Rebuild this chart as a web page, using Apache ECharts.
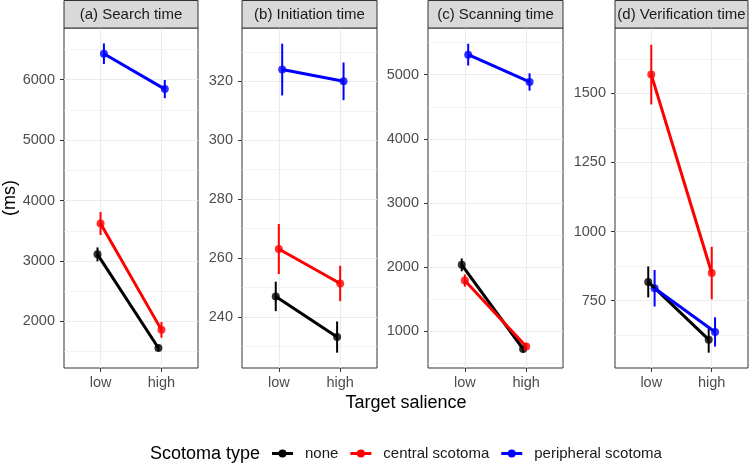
<!DOCTYPE html>
<html><head><meta charset="utf-8">
<script src="https://cdn.jsdelivr.net/npm/echarts@6/dist/echarts.min.js"></script>
<style>html,body{margin:0;padding:0;background:#fff}#c{width:750px;height:476px}</style>
</head><body><div id="c"></div>
<script>
// ---- data ----
const categories = ['low', 'high'];
const groups = ['none', 'central scotoma', 'peripheral scotoma'];
const groupColors = ['#000000', '#FF0000', '#0000FF'];
const panelTitles = ['(a) Search time', '(b) Initiation time', '(c) Scanning time', '(d) Verification time'];

// means [low, high] per group: none, central, peripheral
const searchMeans = [[3110, 1560], [3620, 1860], [6430, 5845]];
const searchErrs = [[115, 55], [190, 130], [170, 150]];
const initiationMeans = [[247, 233.2], [263.1, 251.4], [324, 320]];
const initiationErrs = [[5, 5.3], [8.5, 6], [8.8, 6.4]];
const scanningMeans = [[2037, 726], [1793, 766], [5312, 4886]];
const scanningErrs = [[100, 55], [95, 55], [170, 135]];
const verificationMeans = [[818, 609], [1568, 850], [795, 637]];
const verificationErrs = [[56, 47], [108, 95], [66, 53]];

const searchTicks = [2000, 3000, 4000, 5000, 6000];
const initiationTicks = [240, 260, 280, 300, 320];
const scanningTicks = [1000, 2000, 3000, 4000, 5000];
const verificationTicks = [750, 1000, 1250, 1500];

// ---- layout ----
const panels = [
  {means: searchMeans, errs: searchErrs, ticks: searchTicks, min: 1229, max: 6856, left: 64, width: 134},
  {means: initiationMeans, errs: initiationErrs, ticks: initiationTicks, min: 222.7, max: 338.1, left: 242, width: 135},
  {means: scanningMeans, errs: scanningErrs, ticks: scanningTicks, min: 430, max: 5727, left: 428, width: 135},
  {means: verificationMeans, errs: verificationErrs, ticks: verificationTicks, min: 506.5, max: 1736.6, left: 615, width: 133}
];
const dodge = [-0.05, 0, 0.055];
const FONT = 'Liberation Sans, Arial, Helvetica, sans-serif';
const TOP = 28, HEIGHT = 340;

function minorOf(ticks, min, max) {
  const step = ticks[1] - ticks[0];
  const out = [];
  let v = ticks[0] - step / 2;
  while (v - step >= min) v -= step;
  for (; v <= max; v += step) if (v >= min) out.push(v);
  return out;
}

const grids = [], xAxes = [], yAxes = [], series = [], graphics = [];
panels.forEach((p, i) => {
  grids.push({left: p.left, top: TOP, width: p.width, height: HEIGHT, show: true,
    borderColor: '#333333', borderWidth: 1, backgroundColor: '#fff'});
  xAxes.push({type: 'value', gridIndex: i, min: 0.4, max: 2.6,
    axisLine: {show: false},
    axisTick: {show: true, customValues: [1, 2], length: 4, lineStyle: {color: '#333333', width: 1}},
    axisLabel: {customValues: [1, 2], formatter: v => categories[Math.round(v) - 1], color: '#4d4d4d',
      fontSize: 14.5, fontFamily: FONT, margin: 7},
    splitLine: {show: true, lineStyle: {color: '#ebebeb', width: 1.1}}
  });
  yAxes.push({type: 'value', gridIndex: i, min: p.min, max: p.max, position: 'left',
    axisLine: {show: false},
    axisTick: {show: true, customValues: p.ticks, length: 4, lineStyle: {color: '#333333', width: 1}},
    axisLabel: {customValues: p.ticks, formatter: v => String(v), color: '#4d4d4d', fontSize: 14.5, fontFamily: FONT, margin: 9},
    splitLine: {show: true, lineStyle: {color: '#ebebeb', width: 1.1}}
  });
  const minor = minorOf(p.ticks, p.min, p.max);
  yAxes.push({type: 'value', gridIndex: i, min: p.min, max: p.max, position: 'left',
    axisLine: {show: false},
    axisTick: {show: false, customValues: minor},
    axisLabel: {show: false, customValues: minor},
    splitLine: {show: true, lineStyle: {color: '#ebebeb', width: 0.6}}
  });
  const yIdx = i * 2;
  groups.forEach((g, k) => {
    const m = p.means[k], e = p.errs[k], c = groupColors[k];
    const pts = m.map((v, j) => [j + 1 + dodge[k], v]);
    series.push({type: 'line', name: g, xAxisIndex: i, yAxisIndex: yIdx, data: pts,
      symbol: 'none', lineStyle: {color: c, width: 3}, itemStyle: {color: c}, silent: true, animation: false});
    series.push({type: 'custom', name: g, xAxisIndex: i, yAxisIndex: yIdx,
      data: m.map((v, j) => [j + 1 + dodge[k], v - e[j], v + e[j]]),
      renderItem: (params, api) => {
        const a = api.coord([api.value(0), api.value(1)]);
        const b = api.coord([api.value(0), api.value(2)]);
        return {type: 'line', shape: {x1: a[0], y1: a[1], x2: b[0], y2: b[1]},
          style: {stroke: c, lineWidth: 2}};
      }, itemStyle: {color: c}, silent: true, animation: false});
    series.push({type: 'scatter', name: g, xAxisIndex: i, yAxisIndex: yIdx, data: pts,
      symbol: 'circle', symbolSize: 8, itemStyle: {color: c}, silent: true, animation: false});
  });
  // strip
  graphics.push({type: 'rect', shape: {x: p.left, y: 0.5, width: p.width, height: TOP - 0.5},
    style: {fill: '#d9d9d9', stroke: '#333333', lineWidth: 1}, z: 10});
  graphics.push({type: 'text', x: p.left + p.width / 2, y: 14.5, z: 11,
    style: {text: panelTitles[i], fill: '#1a1a1a', font: '15px ' + FONT, textAlign: 'center', textVerticalAlign: 'middle'}});
});

graphics.push({type: 'text', x: 406, y: 403,
  style: {text: 'Target salience', fill: '#000', font: '18px ' + FONT, textAlign: 'center', textVerticalAlign: 'middle'}});
graphics.push({type: 'text', x: 10, y: 198, rotation: Math.PI / 2,
  style: {text: '(ms)', fill: '#000', font: '18px ' + FONT, textAlign: 'center', textVerticalAlign: 'middle'}});
graphics.push({type: 'text', x: 150, y: 454,
  style: {text: 'Scotoma type', fill: '#000', font: '18px ' + FONT, textAlign: 'left', textVerticalAlign: 'middle'}});

const keyIcon = 'path://M0,2.5H21V5.5H0Z M6.5,4A4,4 0 1 1 14.5,4A4,4 0 1 1 6.5,4Z';

const option = {
  animation: false,
  grid: grids, xAxis: xAxes, yAxis: yAxes, series: series,
  legend: {left: 272, top: 446, padding: 0, itemWidth: 21, itemHeight: 8, itemGap: 12, selectedMode: false,
    data: groups.map(g => ({name: g, icon: keyIcon})),
    textStyle: {fontSize: 15, fontFamily: FONT, color: '#1a1a1a', padding: [0, 0, 0, 7]}},
  graphic: graphics
};
const chart = echarts.init(document.getElementById('c'), null, {renderer: 'canvas'});
chart.setOption(option);
</script></body></html>
